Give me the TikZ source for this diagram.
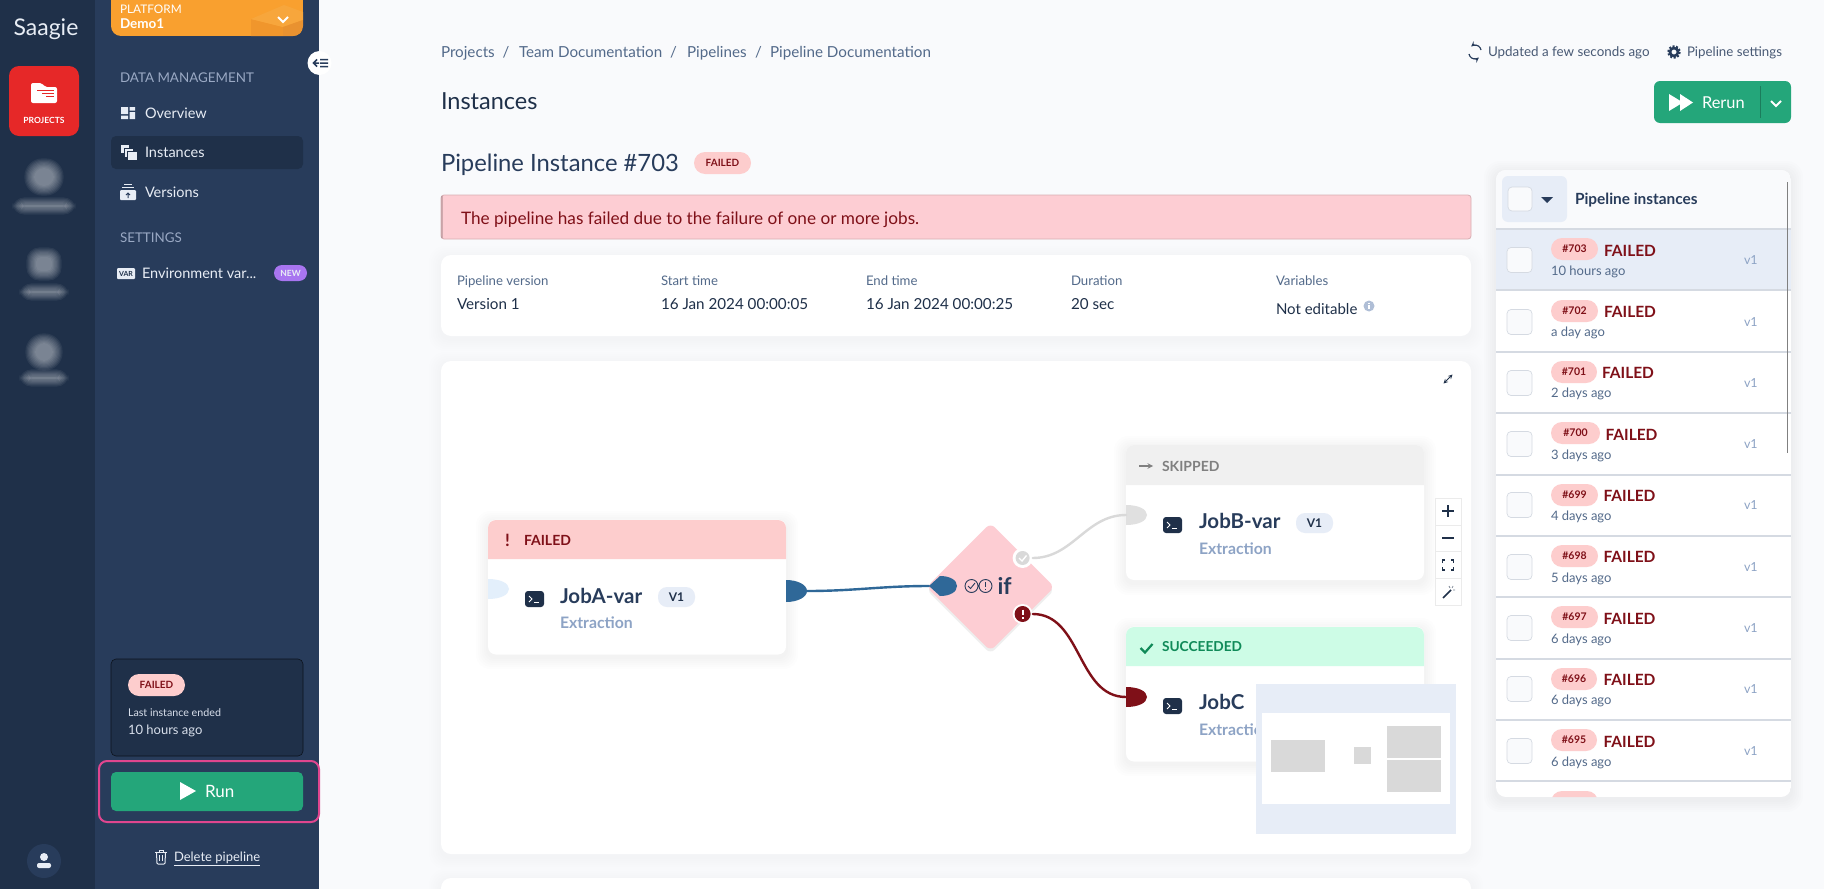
\documentclass[tikz,border=0pt]{standalone}
\usepackage{fontspec}
\setmainfont{Lato}
\usetikzlibrary{shapes.geometric}
\definecolor{pagebg}{HTML}{F9FAFC}
\definecolor{navdark}{HTML}{1F3049}
\definecolor{navmid}{HTML}{283C5B}
\definecolor{navtext}{HTML}{E8EDF5}
\definecolor{navhead}{HTML}{9AA9C4}
\definecolor{slate}{HTML}{536A8A}
\definecolor{softblue}{HTML}{E7EDF7}
\definecolor{failbg}{HTML}{FDCDCD}
\definecolor{failtext}{HTML}{7F1018}
\definecolor{alertbg}{HTML}{FDCDD3}
\definecolor{runbtn}{HTML}{24A67A}
\definecolor{wireblue}{HTML}{2F6898}
\definecolor{extract}{HTML}{8DA3C5}
\definecolor{miniblock}{HTML}{D9D9D9}
\definecolor{rowline}{HTML}{D5DAE2}
\definecolor{projred}{HTML}{E62828}
\definecolor{platmain}{HTML}{F9A02F}
\definecolor{platleft}{HTML}{F0962C}
\definecolor{plattop}{HTML}{F7A63C}
\definecolor{platright}{HTML}{E99230}
\definecolor{newtagbg}{HTML}{A875F0}
\definecolor{markbox}{HTML}{E0468F}
\definecolor{succbg}{HTML}{CDFCE6}
\definecolor{succtext}{HTML}{0F8A58}
\definecolor{portin}{HTML}{E3EFFB}
\newcommand{\fsz}[1]{\fontsize{#1}{#1}\selectfont}
\newcommand{\softshadow}[6]{%
  \foreach \k in {1,...,6}
    \fill[navdark,fill opacity=#6,rounded corners=#5+\k]
      ({#1-\k*2},{#2-\k*2+3}) rectangle ({#3+\k*2},{#4+\k*2+3});}
\newcommand{\blurbox}[5]{%
  \foreach \k in {0,...,8}
    \fill[white,fill opacity=.06,rounded corners=#5+\k]
      ({#1-#3/2-\k*1.2+5},{#2-#4/2-\k*1.2+5}) rectangle ({#1+#3/2+\k*1.2-5},{#2+#4/2+\k*1.2-5});}
\newcommand{\jobhead}[5]{%
  \fill[#5] (#1,#4) [rounded corners=8] -- (#1,#2) -- (#3,#2) -- (#3,{#2+20}) [sharp corners] -- (#3,#4) -- cycle;}
\newcommand{\termicon}[2]{%
  \fill[navdark,rounded corners=3] (#1,#2) rectangle ({#1+19},{#2+16});
  \draw[white,line width=.9] ({#1+4},{#2+5}) -- ({#1+7},{#2+8}) -- ({#1+4},{#2+11});
  \draw[white,line width=.9] ({#1+9},{#2+11}) -- ({#1+14},{#2+11});}
\newcommand{\rightport}[5]{%
  \coordinate (#1) at ({#2+21},#3);
  \coordinate (#1edge) at (#2,#3);
  \fill[#4] (#2,{#3-#5}) .. controls ({#2+12},{#3-#5}) and ({#2+21},{#3-6}) .. ({#2+21},#3)
    .. controls ({#2+21},{#3+6}) and ({#2+12},{#3+#5}) .. (#2,{#3+#5}) -- cycle;}
\tikzset{
  lbl/.style={anchor=base west,inner sep=0pt,outer sep=0pt,font=\fsz{#1},yshift={-.36*#1*1pt}},
  lblb/.style={lbl=#1,font=\fsz{#1}\bfseries},
  ctr/.style={anchor=center,inner sep=0pt,outer sep=0pt},
  jobcard/.style={draw=none,fill=white,rounded corners=8,inner sep=0pt,minimum width=298pt,minimum height=135pt},
  jobname/.style={lblb=20.5,text=navmid},
  jobtype/.style={lblb=15.8,text=extract},
  verpill/.style={ctr,fill=softblue,rounded corners=9,minimum width=37pt,minimum height=20pt,font=\fsz{12}\bfseries,text=navdark},
  wire/.style={line width=2.4,line cap=round},
  failpill/.style={ctr,fill=failbg,rounded corners=11,minimum height=22pt,text=failtext},
  checkbox/.style={fill=pagebg,draw=rowline,rounded corners=4,line width=.7}
}
\begin{document}
\begin{tikzpicture}[x=1pt,y=-1pt]
  \useasboundingbox (0,0) rectangle (1824,889);
  \fill[pagebg] (0,0) rectangle (1824,889);
  \fill[navdark] (0,0) rectangle (95,889);
  \fill[navmid] (95,0) rectangle (319,889);

  \node[ctr,text=navtext,font=\fsz{23}] (logo) at (46,29) {Saagie};
  \fill[projred,rounded corners=10] (9,66) rectangle (79,136);
  \fill[white,rounded corners=2] (31,83) -- (42,83) -- (45,87) -- (57,87) -- (57,103) -- (31,103) -- cycle;
  \draw[projred,line width=.8] (37,90) -- (54,90) (42,93) -- (54,93) (46,96) -- (54,96);
  \node[ctr,text=white,font=\fsz{8.5}\bfseries] (projects) at (44,120) {PROJECTS};
  \blurbox{44}{177}{30}{28}{10}
  \blurbox{44}{206}{54}{8}{4}
  \blurbox{44}{264}{26}{24}{5}
  \blurbox{44}{292}{40}{8}{4}
  \blurbox{44}{352}{28}{28}{10}
  \blurbox{44}{378}{40}{8}{4}

  \begin{scope}
    \clip[rounded corners=10] (111,-20) rectangle (303,36);
    \fill[platmain] (111,-20) rectangle (303,36);
    \fill[platleft] (251,19) -- (283,27) -- (283,36) -- (251,36) -- cycle;
    \fill[plattop] (251,19) -- (284,5) -- (303,12) -- (303,20) -- (283,27) -- cycle;
    \fill[platright] (283,27) -- (303,20) -- (303,36) -- (283,36) -- cycle;
  \end{scope}
  \node[lbl=11.8,text=white] (platform) at (120,9) {PLATFORM};
  \node[lblb=13.5,text=white] (demo) at (120,24) {Demo1};
  \draw[white,line width=1.8] (278,17) -- (283,22) -- (288,17);
  \fill[white] (319.5,63) circle (12);
  \draw[navmid,line width=1.5] (319,63) -- (314,63) (317,59.5) -- (313.5,63) -- (317,66.5) (320,59.5) -- (328,59.5) (320,63) -- (328,63) (320,66.5) -- (328,66.5);

  \node[lbl=13.4,text=navhead] (datamgmt) at (120,77.5) {DATA MANAGEMENT};
  \fill[navdark,rounded corners=5] (111,136) rectangle (303,169);
  \node[lbl=14.5,text=navtext] (overview) at (145,113) {Overview};
  \node[lbl=14.5,text=navtext] (instances) at (145,152) {Instances};
  \node[lbl=14.5,text=navtext] (versions) at (145,192) {Versions};
  \node[lbl=13.4,text=navhead] (settings) at (120,237.5) {SETTINGS};
  \node[lbl=14.5,text=navtext] (envvar) at (142,273) {Environment var...};
  \node[ctr,fill=newtagbg,rounded corners=8,minimum width=33pt,minimum height=16pt,text=navtext,font=\fsz{8.5}\bfseries] (newtag) at (290.5,273) {NEW};
  \fill[navtext] (121,107) rectangle (128,114) (129.5,107) rectangle (135,110.5) (121,115.5) rectangle (128,119) (129.5,112) rectangle (135,119);
  \fill[navtext,draw=navdark,line width=.8] (120,144) rectangle (129,153);
  \fill[navtext,draw=navdark,line width=.8] (124,148) rectangle (133,157);
  \fill[navtext,draw=navdark,line width=.8] (127,151) rectangle (137,160);
  \fill[navtext,rounded corners=1] (120,190) rectangle (136,200);
  \draw[navtext,line width=1] (122,187) -- (134,187) (124,184.5) -- (132,184.5);
  \draw[navmid,line width=1] (128,198) -- (128,193) (126,195) -- (128,193) -- (130,195);
  \fill[navtext,rounded corners=1] (117,268) rectangle (135,279);
  \node[ctr,text=navdark,font=\fsz{7}\bfseries] (vartag) at (126,273.5) {VAR};

  \fill[navdark,draw=black!60!navdark,rounded corners=5,line width=.6] (111,659) rectangle (303,756);
  \node[failpill,minimum width=57pt,font=\fsz{10}\bfseries] (navstate) at (156.5,685) {FAILED};
  \node[lbl=10.7,text=navtext!80!navhead] (lastrun) at (128,713) {Last instance ended};
  \node[lbl=13,text=navtext!80!navhead] (lastago) at (128,730) {10 hours ago};
  \draw[markbox,line width=2,rounded corners=8] (99,761) rectangle (319,822);
  \fill[runbtn,rounded corners=5] (111,772) rectangle (303,811);
  \fill[white] (180,782) -- (196,791) -- (180,800) -- cycle;
  \node[lbl=17,text=white] (runlabel) at (205,791) {Run};
  \fill[navmid] (44,861) circle (17);
  \fill[navtext] (44,857) circle (4);
  \fill[navtext,rounded corners=2] (37,868) -- (37,863) -- (51,863) -- (51,868) -- cycle;
  \draw[navtext,line width=1] (155,852) -- (167,852) (159,852) -- (159,850) -- (163,850) -- (163,852);
  \draw[navtext,line width=1,rounded corners=1] (156.5,852) -- (157,864) -- (165,864) -- (165.5,852);
  \draw[navtext,line width=.8] (159.5,855) -- (159.5,861) (162.5,855) -- (162.5,861);
  \node[lbl=13,text=navtext] (deletepipe) at (174,857) {\underline{Delete pipeline}};

  \node[lbl=15.2,text=slate] (crumbA) at (441,52) {Projects};
  \node[ctr,text=slate,font=\fsz{15}] (sepA) at (506,52) {/};
  \node[lbl=15.2,text=slate] (crumbB) at (519,52) {Team Documentation};
  \node[ctr,text=slate,font=\fsz{15}] (sepB) at (673.5,52) {/};
  \node[lbl=15.2,text=slate] (crumbC) at (687,52) {Pipelines};
  \node[ctr,text=slate,font=\fsz{15}] (sepC) at (758.5,52) {/};
  \node[lbl=15.2,text=slate] (crumbD) at (770,52) {Pipeline Documentation};
  \node[lbl=23.5,text=navdark] (title) at (441,101) {Instances};
  \node[lbl=23.8,text=navmid] (subtitle) at (441,163) {Pipeline Instance \#703};
  \node[failpill,minimum width=57pt,font=\fsz{10}\bfseries] (substate) at (722.5,163) {FAILED};

  \fill[alertbg,draw=alertbg!85!black,rounded corners=3,line width=.8] (441,195) rectangle (1471,239);
  \fill[alertbg!65!black,opacity=.5] (441,196) rectangle (443,238);
  \node[lbl=17.2,text=failtext] (alertmsg) at (461,218) {The pipeline has failed due to the failure of one or more jobs.};

  \softshadow{441}{255}{1471}{336}{10}{.005}
  \fill[white,rounded corners=10] (441,255) rectangle (1471,336);
  \foreach \nm/\xx/\capt/\val in {infoA/457/Pipeline version/Version 1,infoB/661/Start time/16 Jan 2024 00:00:05,infoC/866/End time/16 Jan 2024 00:00:25,infoD/1071/Duration/20 sec}{
    \node[lbl=13.2,text=slate] (\nm cap) at (\xx,281) {\capt};
    \node[lbl=15.2,text=navdark] (\nm val) at (\xx,304) {\val};
  }
  \node[lbl=13.2,text=slate] (infoEcap) at (1276,281) {Variables};
  \node[lbl=15,text=navdark] (infoEval) at (1276,309) {Not editable};
  \fill[extract!70] (1369,306) circle (5.5);
  \draw[white,line width=1.2] (1369,305) -- (1369,309) (1369,302.5) -- (1369,303.5);

  \softshadow{441}{361}{1471}{854}{10}{.005}
  \fill[white,rounded corners=10] (441,361) rectangle (1471,854);
  \softshadow{441}{878}{1471}{930}{10}{.005}
  \fill[white,rounded corners=10] (441,878) rectangle (1471,930);
  \draw[stealth-stealth,navdark,line width=1] (1443.5,383.5) -- (1452.5,374.5);

  \softshadow{488}{520}{786}{654}{8}{.009}
  \node[jobcard] (jobA) at (637,587) {};
  \jobhead{488}{520}{786}{559}{failbg}
  \node[ctr,text=failtext,font=\fsz{17}\bfseries] (markA) at (507.5,540) {!};
  \node[lblb=14,text=failtext] (stateA) at (524,540) {FAILED};
  \rightport{inA}{488}{589}{portin}{10}
  \rightport{outA}{786}{591}{wireblue}{11}
  \termicon{525}{591}
  \node[jobname] (nameA) at (560,596) {JobA-var};
  \node[verpill] (verA) at (676.5,597) {V1};
  \node[jobtype] (typeA) at (560,623) {Extraction};

  \softshadow{1126}{445}{1424}{580}{8}{.009}
  \node[jobcard] (jobB) at (1275,512.5) {};
  \jobhead{1126}{445}{1424}{485}{black!6}
  \draw[-stealth,black!50,line width=1.4] (1139,466) -- (1153,466);
  \node[lblb=14,text=black!50] (stateB) at (1162,466) {SKIPPED};
  \rightport{inB}{1126}{515}{black!12}{10}
  \termicon{1163}{517}
  \node[jobname] (nameB) at (1199,521) {JobB-var};
  \node[verpill] (verB) at (1314.5,523) {V1};
  \node[jobtype] (typeB) at (1199,549) {Extraction};

  \softshadow{1126}{627}{1424}{761}{8}{.009}
  \node[jobcard] (jobC) at (1275,694) {};
  \jobhead{1126}{627}{1424}{666}{succbg}
  \draw[succtext,line width=2.2] (1140.5,648) -- (1145,652.5) -- (1152.5,644);
  \node[lblb=13.7,text=succtext] (stateC) at (1162,647) {SUCCEEDED};
  \rightport{inC}{1126}{697}{failtext}{10}
  \termicon{1163}{698}
  \node[jobname] (nameC) at (1199,702) {JobC};
  \node[jobtype] (typeC) at (1199,730) {Extraction};

  \node[diamond,fill=black!25,fill opacity=.25,inner sep=0pt,aspect=1,rounded corners=6,minimum width=128pt,minimum height=128pt] (ifshade) at (990.5,590) {};
  \node[diamond,fill=alertbg,inner sep=0pt,aspect=1,rounded corners=6,minimum width=128pt,minimum height=128pt] (ifcond) at (990.5,587) {};
  \coordinate (inIf) at (929,586);
  \fill[wireblue] (inIf) -- (940,576) .. controls (950,576) and (957,580) .. (957,586) .. controls (957,592) and (950,596) .. (940,596) -- cycle;
  \draw[navmid,line width=.9] (971.5,586) circle (6.5) (985.5,586) circle (6.5);
  \draw[navmid,line width=.9] (968,586) -- (970.5,588.5) -- (975,583);
  \draw[navmid,line width=1.2] (985.5,582) -- (985.5,587) (985.5,588.5) -- (985.5,590);
  \node[lblb=23,text=navmid] (iflabel) at (997.5,586) {if};
  \node[circle,fill=white,inner sep=0pt,minimum size=20pt] (okbadge) at (1022.6,558) {};
  \fill[miniblock] (okbadge) circle (7);
  \draw[white,line width=1.4] (1019,558) -- (1022,561) -- (1026.5,555.5);
  \node[circle,fill=white,inner sep=0pt,minimum size=20pt] (koBadge) at (1022.6,614) {};
  \fill[failtext] (koBadge) circle (8);
  \draw[white,line width=2] (1022.6,609.5) -- (1022.6,615) (1022.6,617) -- (1022.6,619);

  \draw[wire,wireblue] (outA) to[out=0,in=180] (inIf);
  \draw[wire,miniblock] (okbadge.east) to[out=0,in=180] (inBedge);
  \draw[wire,failtext] (koBadge.east) to[out=0,in=180] (inCedge);

  \fill[softblue] (1256,684) rectangle (1456,834);
  \fill[white] (1262,713) rectangle (1450,804);
  \fill[miniblock] (1271,740) rectangle (1325,772);
  \fill[miniblock] (1354,747) rectangle (1371,764);
  \fill[miniblock] (1387,726) rectangle (1441,758);
  \fill[miniblock] (1387,759.5) rectangle (1441,791.5);

  \fill[white,draw=black!8,line width=.7] (1435,498) rectangle (1461,605);
  \draw[black!8,line width=.7] (1435,525) -- (1461,525) (1435,551.5) -- (1461,551.5) (1435,578.5) -- (1461,578.5);
  \draw[navdark,line width=1.6] (1442,511) -- (1454,511) (1448,505) -- (1448,517);
  \draw[navdark,line width=1.6] (1442,538) -- (1454,538);
  \draw[navdark,line width=1.3] (1442.5,563) -- (1442.5,560) -- (1445,560) (1451,560) -- (1453.5,560) -- (1453.5,563) (1453.5,567) -- (1453.5,570) -- (1451,570) (1445,570) -- (1442.5,570) -- (1442.5,567);
  \draw[navdark,line width=1.7] (1443,598) -- (1451,590);
  \draw[navdark!60,line width=.7] (1449,586) -- (1450,588) (1453,586) -- (1452,588) (1455,590) -- (1453,590);

  \draw[navmid,line width=1.2,-stealth] (1481,50) arc[start angle=10,end angle=130,radius=6pt];
  \draw[navmid,line width=1.2,-stealth] (1469,54) arc[start angle=190,end angle=310,radius=6pt];
  \node[lbl=13.4,text=navmid!85!white] (updated) at (1488,52) {Updated a few seconds ago};
  \draw[navmid,line width=2.6] (1674,52) circle (4);
  \draw[navmid,line width=2,dash pattern=on 2pt off 1.6pt] (1674,52) circle (5.7);
  \node[lbl=13.3,text=navmid!85!white] (pipesettings) at (1687,52) {Pipeline settings};
  \fill[runbtn,rounded corners=6] (1654,81) rectangle (1791,123);
  \fill[white] (1669,94) -- (1683,102.5) -- (1669,111) -- cycle;
  \fill[white] (1680,94) -- (1693,102.5) -- (1680,111) -- cycle;
  \node[lbl=16.4,text=white] (rerun) at (1702,103) {Rerun};
  \draw[runbtn!75!black,line width=.8] (1760,86) -- (1760,118);
  \draw[white,line width=2] (1771,101) -- (1776,106) -- (1781,101);

  \softshadow{1496}{170}{1791}{797}{10}{.006}
  \begin{scope}
    \clip[rounded corners=10] (1496,170) rectangle (1791,797);
    \fill[white] (1496,170) rectangle (1791,797);
    \fill[pagebg] (1496,170) rectangle (1791,229);
    \fill[softblue] (1496,229) rectangle (1791,289);
    \foreach \yy in {229,290,352,413,475,536,597,659,720,781}
      \draw[rowline,line width=1.8] (1496,\yy) -- (1791,\yy);
    \node[failpill,minimum width=47pt] (pillnext) at (1574.5,802) {};
  \end{scope}
  \fill[softblue,rounded corners=6] (1502,176) rectangle (1567,222);
  \draw[checkbox] (1508,187) rectangle (1532,211);
  \fill[navmid] (1541,197) -- (1553,197) -- (1547,203) -- cycle;
  \node[lblb=15.4,text=navmid] (listhead) at (1575,199) {Pipeline instances};
  \foreach \nr/\ago/\pe/\fx/\yb/\yp/\yf/\ya in {703/10 hours ago/1598/1604/260/249/251/271,702/a day ago/1598/1604/322/311/312/332,701/2 days ago/1597/1602/383/372/373/393,700/3 days ago/1600/1605.5/444/433/435/455,699/4 days ago/1598/1603.5/505/495/496/516,698/5 days ago/1598/1603.5/567/556/557/578,697/6 days ago/1598/1603.5/628/617/619/639,696/6 days ago/1597/1603.5/689/679/680/700,695/6 days ago/1597/1603.5/751/740/742/762}{
    \draw[checkbox] (1507,\yb-12.5) rectangle (1532,\yb+12.5);
    \node[failpill,anchor=west,minimum width={(\pe-1551)*1pt},font=\fsz{10.5}\bfseries] (pill\nr) at (1551,\yp) {\#\nr};
    \node[lblb=15.5,text=failtext] (state\nr) at (\fx,\yf) {FAILED};
    \node[lbl=13,text=slate] (ago\nr) at (1551,\ya) {\ago};
    \node[lbl=12.5,text=extract] (ver\nr) at (1744,\yb) {v1};
  }
  \draw[black!50,line width=1.5] (1787.5,182) -- (1787.5,453);
\end{tikzpicture}
\end{document}
